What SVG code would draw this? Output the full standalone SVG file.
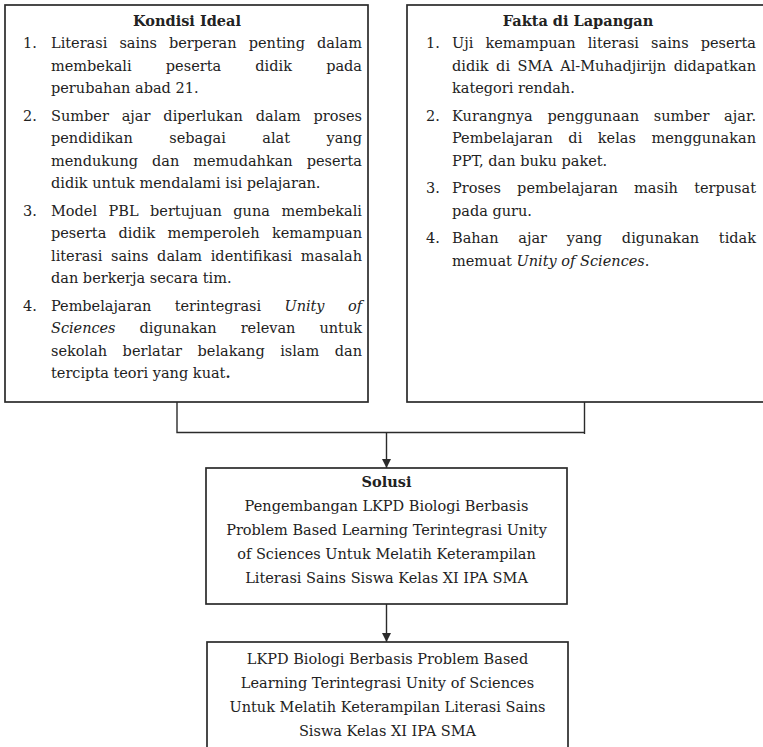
<svg xmlns="http://www.w3.org/2000/svg" width="763" height="747" viewBox="0 0 763 747">
<style>
 .t{font-family:"DejaVu Serif","Liberation Serif",serif;font-size:14.5px;fill:#222}
 .b{font-weight:bold}
 .i{font-style:italic}
 .box{fill:#fff;stroke:#2b2b2b;stroke-width:1.7}
 .ln{fill:none;stroke:#2b2b2b;stroke-width:1.4}
 .m{text-anchor:middle}
</style>
<defs>
 <marker id="ah" markerWidth="9" markerHeight="9" refX="9" refY="4.5" orient="auto" markerUnits="userSpaceOnUse"><path d="M0,0 L9,4.5 L0,9 z" fill="#2b2b2b"/></marker>
</defs>
<rect width="763" height="747" fill="#fff"/>

<g id="connectors">
 <path class="ln" d="M177,402 V432.5 H584.5 M584.5,402 V434"/>
 <path class="ln" d="M386.5,432.5 V468" marker-end="url(#ah)"/>
 <path class="ln" d="M386.5,604 V642" marker-end="url(#ah)"/>
</g>

<g id="kondisi-ideal">
 <rect class="box" x="5" y="5" width="363" height="397"/>
 <text class="t b m" x="187" y="26">Kondisi Ideal</text>
 <text class="t" x="23" y="48">1.</text>
 <text class="t" x="51" y="48" textLength="311" lengthAdjust="spacing" word-spacing="7.5">Literasi sains berperan penting dalam</text>
 <text class="t" x="51" y="70.5" textLength="311" lengthAdjust="spacing" word-spacing="29.6">membekali peserta didik pada</text>
 <text class="t" x="51" y="93">perubahan abad 21.</text>
 <text class="t" x="23" y="120.5">2.</text>
 <text class="t" x="51" y="120.5" textLength="311" lengthAdjust="spacing" word-spacing="8.3">Sumber ajar diperlukan dalam proses</text>
 <text class="t" x="51" y="143" textLength="311" lengthAdjust="spacing" word-spacing="31.9">pendidikan sebagai alat yang</text>
 <text class="t" x="51" y="165.5" textLength="311" lengthAdjust="spacing" word-spacing="9.4">mendukung dan memudahkan peserta</text>
 <text class="t" x="51" y="188">didik untuk mendalami isi pelajaran.</text>
 <text class="t" x="23" y="215.5">3.</text>
 <text class="t" x="51" y="215.5" textLength="311" lengthAdjust="spacing" word-spacing="6.9">Model PBL bertujuan guna membekali</text>
 <text class="t" x="51" y="238" textLength="311" lengthAdjust="spacing" word-spacing="7.7">peserta didik memperoleh kemampuan</text>
 <text class="t" x="51" y="260.5" textLength="311" lengthAdjust="spacing" word-spacing="4">literasi sains dalam identifikasi masalah</text>
 <text class="t" x="51" y="283">dan berkerja secara tim.</text>
 <text class="t" x="23" y="310.5">4.</text>
 <text class="t" x="51" y="310.5" textLength="311" lengthAdjust="spacing" word-spacing="18.8">Pembelajaran terintegrasi <tspan class="i">Unity of</tspan></text>
 <text class="t" x="51" y="333" textLength="311" lengthAdjust="spacing" word-spacing="19.5"><tspan class="i">Sciences</tspan> digunakan relevan untuk</text>
 <text class="t" x="51" y="355.5" textLength="311" lengthAdjust="spacing" word-spacing="10.9">sekolah berlatar belakang islam dan</text>
 <text class="t" x="51" y="378">tercipta teori yang kuat<tspan class="b">.</tspan></text>
</g>

<g id="fakta-di-lapangan">
 <rect class="box" x="407" y="5" width="370" height="397"/>
 <text class="t b m" x="578" y="26">Fakta di Lapangan</text>
 <text class="t" x="426" y="48">1.</text>
 <text class="t" x="452" y="48" textLength="304" lengthAdjust="spacing" word-spacing="7.5">Uji kemampuan literasi sains peserta</text>
 <text class="t" x="452" y="70.5" textLength="304" lengthAdjust="spacing" word-spacing="2.9">didik di SMA Al-Muhadjirijn didapatkan</text>
 <text class="t" x="452" y="93">kategori rendah.</text>
 <text class="t" x="426" y="120.5">2.</text>
 <text class="t" x="452" y="120.5" textLength="304" lengthAdjust="spacing" word-spacing="10">Kurangnya penggunaan sumber ajar.</text>
 <text class="t" x="452" y="143" textLength="304" lengthAdjust="spacing" word-spacing="10.9">Pembelajaran di kelas menggunakan</text>
 <text class="t" x="452" y="165.5">PPT, dan buku paket.</text>
 <text class="t" x="426" y="193">3.</text>
 <text class="t" x="452" y="193" textLength="304" lengthAdjust="spacing" word-spacing="11.6">Proses pembelajaran masih terpusat</text>
 <text class="t" x="452" y="215.5">pada guru.</text>
 <text class="t" x="426" y="243">4.</text>
 <text class="t" x="452" y="243" textLength="304" lengthAdjust="spacing" word-spacing="15.1">Bahan ajar yang digunakan tidak</text>
 <text class="t" x="452" y="265.5">memuat <tspan class="i">Unity of Sciences</tspan>.</text>
</g>

<g id="solusi">
 <rect class="box" x="206" y="468" width="361" height="136"/>
 <text class="t b m" x="386.5" y="487">Solusi</text>
 <text class="t m" x="386.5" y="511">Pengembangan LKPD Biologi Berbasis</text>
 <text class="t m" x="386.5" y="535">Problem Based Learning Terintegrasi Unity</text>
 <text class="t m" x="386.5" y="559">of Sciences Untuk Melatih Keterampilan</text>
 <text class="t m" x="386.5" y="583">Literasi Sains Siswa Kelas XI IPA SMA</text>
</g>

<g id="lkpd">
 <rect class="box" x="207" y="642" width="361" height="120"/>
 <text class="t m" x="387.5" y="664">LKPD Biologi Berbasis Problem Based</text>
 <text class="t m" x="387.5" y="688">Learning Terintegrasi Unity of Sciences</text>
 <text class="t m" x="387.5" y="712">Untuk Melatih Keterampilan Literasi Sains</text>
 <text class="t m" x="387.5" y="736">Siswa Kelas XI IPA SMA</text>
</g>
</svg>
